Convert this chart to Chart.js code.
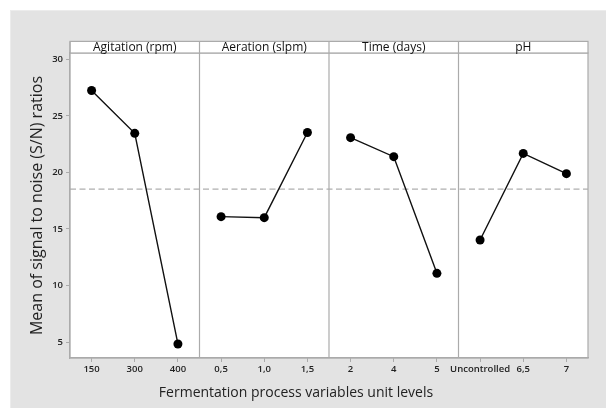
<!DOCTYPE html>
<html>
<head>
<meta charset="utf-8">
<script src="https://cdn.jsdelivr.net/npm/chart.js@4"></script>
<style>
	html, body { margin: 0; padding: 0; background: #fff; }
	#wrap { width: 606px; height: 408px; }
</style>
</head>
<body>
<div id="wrap"><canvas id="mainEffects" width="606" height="408"></canvas></div>
<script>
// main effects plot for S/N ratios, one panel per factor
const factors = ["Agitation (rpm)", "Aeration (slpm)", "Time (days)", "pH"];
const agitationLevels = ["150", "300", "400"];
const aerationLevels = ["0,5", "1,0", "1,5"];
const timeLevels = ["2", "4", "5"];
const phLevels = ["Uncontrolled", "6,5", "7"];
const agitationMeans = [27.24, 23.45, 4.84];
const aerationMeans = [16.09, 16.0, 23.53];
const timeMeans = [23.07, 21.39, 11.08];
const phMeans = [14.03, 21.68, 19.89];
const yTicks = [5, 10, 15, 20, 25, 30];
const xTitle = "Fermentation process variables unit levels";

const levels = [agitationLevels, aerationLevels, timeLevels, phLevels];
const means = [agitationMeans, aerationMeans, timeMeans, phMeans];

var labels = [];
levels.forEach(l => labels.push(...l));

var allValues = [];
means.forEach(m => allValues.push(...m));
var grandMean = allValues.reduce((a, b) => a + b, 0) / allValues.length;

var datasets = [];
means.forEach((m, i) => {
	var data = labels.map(() => null);
	m.forEach((v, j) => { data[i * 3 + j] = v; });
	datasets.push({
		label: factors[i],
		data: data,
		borderColor: "#111",
		backgroundColor: "#000",
		borderWidth: 1.4,
		pointRadius: 4.5,
		pointHoverRadius: 4.5,
		pointBorderWidth: 0,
		spanGaps: false,
		tension: 0
	});
});

const gridGray = "#ababab";
const textColor = "#222";

const panelPlugin = {
	id: "panels",
	beforeDraw(chart) {
		const ctx = chart.ctx;
		const a = chart.chartArea;
		ctx.save();
		ctx.fillStyle = "#fff";
		ctx.fillRect(0, 0, chart.width, chart.height);
		ctx.fillStyle = "#e3e3e3";
		ctx.fillRect(10, 10, chart.width - 10, chart.height - 10);
		ctx.strokeStyle = "#ececec";
		ctx.lineWidth = 1;
		ctx.strokeRect(10.5, 10.5, chart.width, chart.height);
		ctx.fillStyle = "#fff";
		ctx.fillRect(a.left, a.top, a.right - a.left, a.bottom - a.top);
		ctx.restore();
	},
	beforeDatasetsDraw(chart) {
		const ctx = chart.ctx;
		const a = chart.chartArea;
		const x = chart.scales.x;
		const y = chart.scales.y;
		const step = x.getPixelForValue(1) - x.getPixelForValue(0);
		ctx.save();
		// mean reference line
		ctx.strokeStyle = "#9a9a9a";
		ctx.lineWidth = 1;
		ctx.setLineDash([6, 3.5]);
		const yMean = y.getPixelForValue(grandMean);
		ctx.beginPath();
		ctx.moveTo(a.left, yMean);
		ctx.lineTo(a.right, yMean);
		ctx.stroke();
		ctx.setLineDash([]);
		// panel separators and frame
		ctx.strokeStyle = gridGray;
		ctx.lineWidth = 1.2;
		for (let i = 1; i < factors.length; i++) {
			const px = x.getPixelForValue(i * 3) - step / 2;
			ctx.beginPath();
			ctx.moveTo(px, a.top - 12);
			ctx.lineTo(px, a.bottom);
			ctx.stroke();
		}
		ctx.strokeRect(a.left, a.top, a.right - a.left, a.bottom - a.top);
		// header strip
		const hTop = a.top - 11.6;
		ctx.fillStyle = "#fff";
		ctx.fillRect(a.left, hTop, a.right - a.left, a.top - hTop);
		ctx.strokeRect(a.left, hTop, a.right - a.left, a.top - hTop);
		for (let i = 0; i < factors.length; i++) {
			const x0 = x.getPixelForValue(i * 3) - step / 2;
			const x1 = x.getPixelForValue(i * 3 + 2) + step / 2;
			ctx.beginPath();
			ctx.moveTo(x0, hTop);
			ctx.lineTo(x0, a.top);
			ctx.stroke();
			ctx.fillStyle = "#111";
			ctx.font = "12px 'Open Sans'";
			ctx.textAlign = "center";
			ctx.textBaseline = "middle";
			ctx.fillText(factors[i], (x0 + x1) / 2, (hTop + a.top) / 2 + 0.5);
		}
		// x axis title, sits left of the plot centre in the original
		ctx.fillStyle = textColor;
		ctx.font = "14px 'Open Sans'";
		ctx.fillText(xTitle, 296, 393);
		ctx.restore();
	}
};

const mainCanvas = document.getElementById("mainEffects");

new Chart(mainCanvas, {
	type: "line",
	data: {
		labels: labels,
		datasets: datasets
	},
	options: {
		responsive: false,
		animation: false,
		events: [],
		layout: {
			padding: { top: 53, right: 18, left: 24, bottom: 0 }
		},
		plugins: {
			legend: { display: false },
			tooltip: { enabled: false }
		},
		scales: {
			x: {
				type: "category",
				offset: true,
				grid: {
					offset: false,
					drawOnChartArea: false,
					tickLength: 4,
					color: gridGray
				},
				border: { color: gridGray, width: 1.2 },
				ticks: {
					color: textColor,
					font: { family: "'Open Sans'", size: 9.5, weight: "600" },
					padding: 2,
					maxRotation: 0,
					autoSkip: false
				},
				afterFit(scale) { scale.height = 50; }
			},
			y: {
				min: 3.6,
				max: 30.55,
				grid: {
					drawOnChartArea: false,
					tickLength: 4,
					color: gridGray
				},
				border: { color: gridGray, width: 1.2 },
				afterBuildTicks(scale) {
					scale.ticks = yTicks.map(v => ({ value: v }));
				},
				ticks: {
					color: textColor,
					font: { family: "'Open Sans'", size: 9.5, weight: "600" },
					padding: 3
				},
				title: {
					display: true,
					text: "Mean of signal to noise (S/N) ratios",
					color: textColor,
					font: { family: "'Open Sans'", size: 16 },
					padding: { top: 4, bottom: 4 }
				},
				afterFit(scale) { scale.width = 46; }
			}
		}
	},
	plugins: [panelPlugin]
});
</script>
</body>
</html>
